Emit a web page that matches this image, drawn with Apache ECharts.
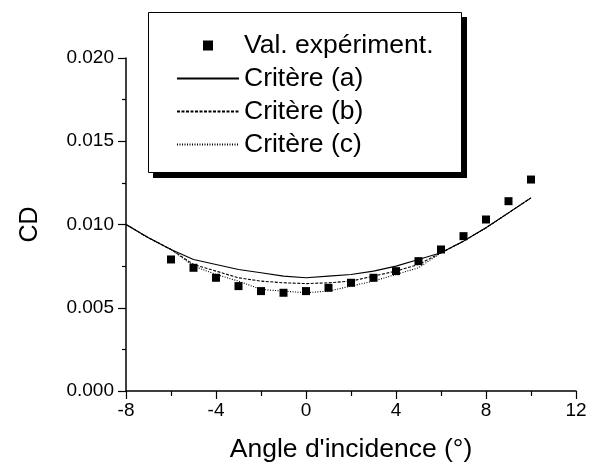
<!DOCTYPE html>
<html>
<head>
<meta charset="utf-8">
<script src="https://cdn.jsdelivr.net/npm/echarts@6/dist/echarts.min.js"></script>
<style>
  html, body { margin: 0; padding: 0; background: #fff; }
  #chart { width: 591px; height: 468px; }
</style>
</head>
<body>
<div id="chart"></div>
<script>
// Angle of attack (degrees)
const angles = [-8, -7, -6, -5, -4, -3, -2, -1, 0, 1, 2, 3, 4, 5, 6, 7, 8, 9, 10];
// Measured drag coefficient, from -6 to 10 degrees
const expAngles = [-6, -5, -4, -3, -2, -1, 0, 1, 2, 3, 4, 5, 6, 7, 8, 9, 10];
const expCD = [0.0079, 0.0074, 0.0068, 0.0063, 0.0060, 0.0059, 0.0060, 0.0062, 0.0065,
               0.0068, 0.0072, 0.0078, 0.0085, 0.0093, 0.0103, 0.0114, 0.0127];
// Computed drag coefficient for the three transition criteria
const cdA = [0.0100, 0.0092, 0.0085, 0.0079, 0.0076, 0.0073, 0.0071, 0.0069, 0.0068, 0.0069,
             0.0070, 0.0072, 0.0075, 0.0079, 0.0083, 0.0090, 0.0098, 0.0107, 0.0116];
const cdB = [0.0100, 0.0092, 0.0085, 0.0076, 0.0072, 0.0068, 0.0066, 0.0065, 0.00645, 0.0065,
             0.0066, 0.0069, 0.0072, 0.0076, 0.0083, 0.0090, 0.0098, 0.0107, 0.0116];
const cdC = [0.0100, 0.0092, 0.0085, 0.0075, 0.0070, 0.0066, 0.0061, 0.0060, 0.0059, 0.0060,
             0.0063, 0.0066, 0.0070, 0.0074, 0.0083, 0.0090, 0.0098, 0.0107, 0.0116];
const seriesNames = ['Val. expériment.', 'Critère (a)', 'Critère (b)', 'Critère (c)'];

const pair = (xs, ys) => xs.map((x, i) => [x, ys[i]]);
const FONT = 'Liberation Sans, Arial, sans-serif';

const chart = echarts.init(document.getElementById('chart'), null, { renderer: 'canvas' });

const lineSeries = (name, ys, type) => ({
  name, type: 'line', data: pair(angles, ys),
  symbol: 'none', showSymbol: false, smooth: false,
  lineStyle: { color: '#000', width: 1.1, type },
  itemStyle: { color: '#000' }, z: 3
});

// legend entries for the curves show only the stroke, no marker
const curveLegend = name => ({ name, itemStyle: { opacity: 0 } });

chart.setOption({
  animation: false,
  backgroundColor: '#fff',
  grid: { left: 126, right: 15, top: 58, bottom: 76, containLabel: false },
  xAxis: {
    type: 'value', min: -8, max: 12, interval: 4,
    name: "Angle d'incidence (°)", nameLocation: 'middle', nameGap: 45,
    nameTextStyle: { fontFamily: FONT, fontSize: 26.5, color: '#000' },
    axisLine: { show: true, onZero: false, lineStyle: { color: '#000', width: 1.5 } },
    axisTick: { show: true, inside: false, length: 8, lineStyle: { color: '#000', width: 1.2 } },
    minorTick: { show: true, splitNumber: 2, length: 5, lineStyle: { color: '#000', width: 1.2 } },
    axisLabel: { fontFamily: FONT, fontSize: 19, color: '#000', margin: 10 },
    splitLine: { show: false }
  },
  yAxis: {
    type: 'value', min: 0, max: 0.02, interval: 0.005,
    name: 'CD', nameLocation: 'middle', nameGap: 83,
    nameTextStyle: { fontFamily: FONT, fontSize: 25, color: '#000' },
    axisLine: { show: true, onZero: false, lineStyle: { color: '#000', width: 1.5 } },
    axisTick: { show: true, inside: false, length: 8, lineStyle: { color: '#000', width: 1.2 } },
    minorTick: { show: true, splitNumber: 2, length: 4, lineStyle: { color: '#000', width: 1.2 } },
    axisLabel: { fontFamily: FONT, fontSize: 19, color: '#000', margin: 12,
                 formatter: v => v.toFixed(3) },
    splitLine: { show: false }
  },
  legend: {
    orient: 'vertical', left: 171, top: 27, z: 20,
    itemWidth: 62, itemHeight: 10, itemGap: 6,
    symbolKeepAspect: true,
    textStyle: { fontFamily: FONT, fontSize: 26.5, color: '#000', lineHeight: 26 },
    data: [
      { name: seriesNames[0], icon: 'path://M0,0L10,0L10,10L0,10Z' },
      curveLegend(seriesNames[1]),
      curveLegend(seriesNames[2]),
      curveLegend(seriesNames[3])
    ]
  },
  graphic: [
    { type: 'rect', z: 15, shape: { x: 153, y: 17, width: 314, height: 161 },
      style: { fill: '#000' } },
    { type: 'rect', z: 16, shape: { x: 148.5, y: 12.5, width: 313, height: 160 },
      style: { fill: '#fff', stroke: '#000', lineWidth: 1 } }
  ],
  series: [
    { name: seriesNames[0], type: 'scatter', data: pair(expAngles, expCD),
      symbol: 'rect', symbolSize: 8, itemStyle: { color: '#000', opacity: 1 }, z: 4 },
    lineSeries(seriesNames[1], cdA, 'solid'),
    lineSeries(seriesNames[2], cdB, [3, 1.5]),
    lineSeries(seriesNames[3], cdC, [1, 1.5])
  ]
});
</script>
</body>
</html>
